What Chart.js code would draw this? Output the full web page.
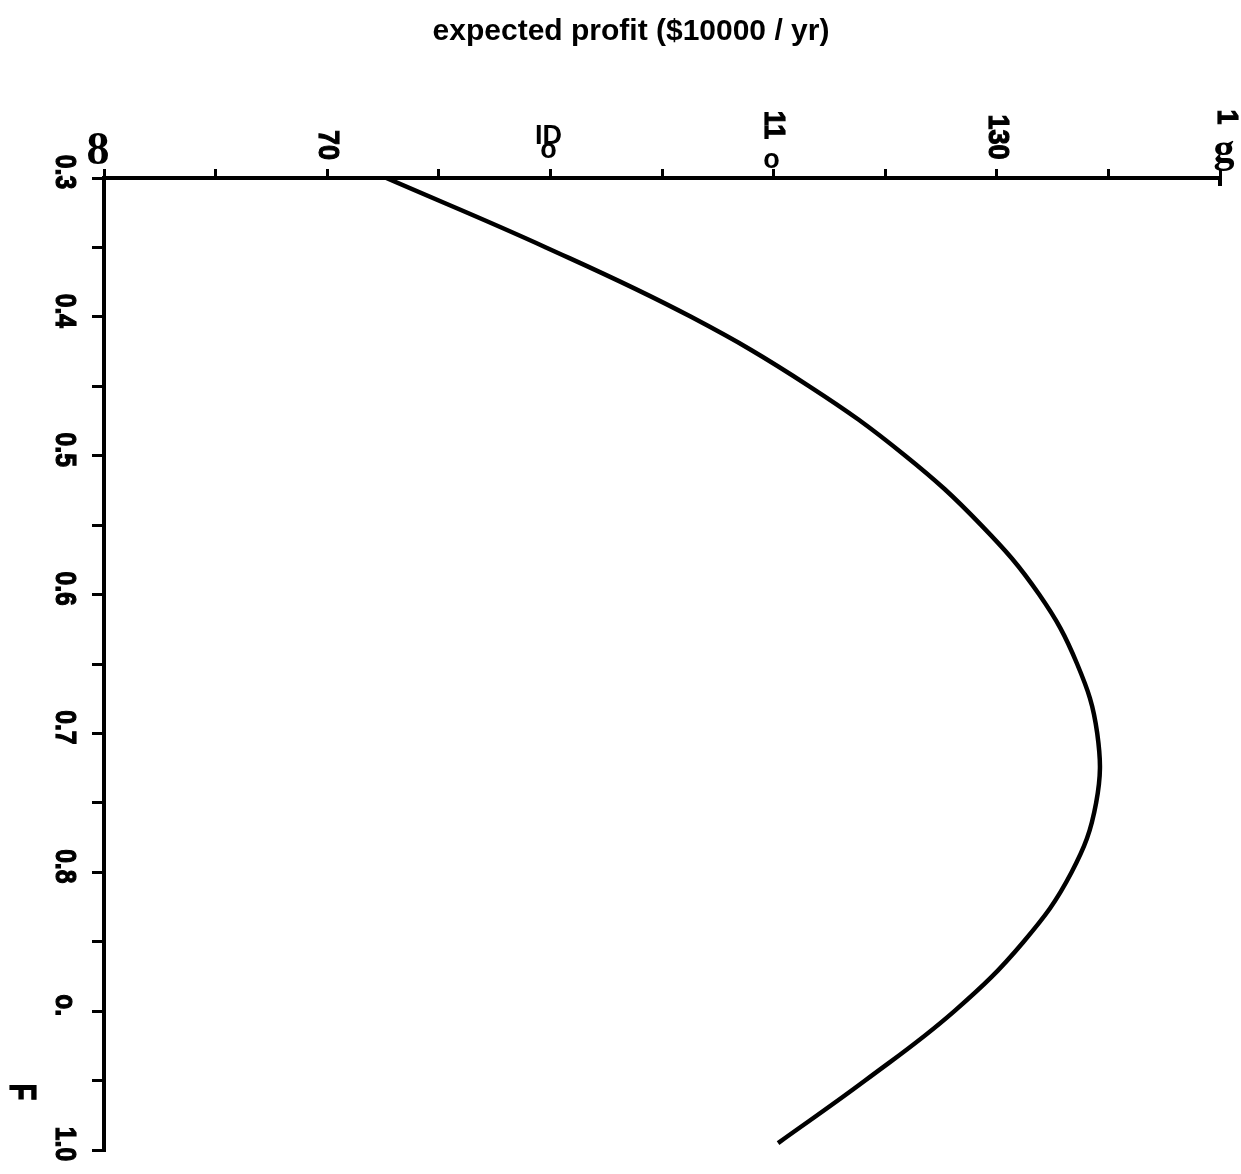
<!DOCTYPE html>
<html>
<head>
<meta charset="utf-8">
<script src="https://cdn.jsdelivr.net/npm/chart.js@4.4.1/dist/chart.umd.min.js"></script>
<style>
  html, body { margin: 0; padding: 0; background: #fff; }
  #wrap { width: 1241px; height: 1174px; position: relative; }
</style>
</head>
<body>
<div id="wrap"><canvas id="myChart" width="1241" height="1174"></canvas></div>
<script>
// F (vertical axis) og expected profit (horizontal axis)
const fValues = [0.30, 0.35, 0.40, 0.45, 0.50, 0.55, 0.60, 0.65, 0.70, 0.75, 0.80, 0.85, 0.90, 0.95, 0.995];
const profitValues = [75.3, 89.6, 102.6, 113.2, 121.8, 128.6, 133.8, 137.2, 139.0, 138.9, 136.7, 132.4, 126.2, 118.2, 110.4];

// tick labels som de står på billedet
const profitTicks = [50, 70, 90, 110, 130, 150];
const profitTickText = ['8', '70', 'ID o', '11 o', '130', '1 g'];
const fTicks = [0.3, 0.4, 0.5, 0.6, 0.7, 0.8, 0.9, 1.0];
const fTickText = ['0.3', '0.4', '0.5', '0.6', '0.7', '0.8', 'o.', '1.0'];

const titleText = 'expected profit ($10000 / yr)';
const yTitleText = 'F';

const points = fValues.map((f, i) => ({x: profitValues[i], y: f}));

// tegner rotated tekst (90 grader med uret), lidt fed som paa scanningen
function rotText(ctx, txt, x, y, font, squeeze) {
    ctx.save();
    ctx.translate(x, y);
    ctx.rotate(Math.PI / 2);
    ctx.scale(squeeze || 1, 1);
    ctx.font = font;
    ctx.textAlign = 'center';
    ctx.textBaseline = 'middle';
    ctx.lineWidth = 1.2;
    ctx.strokeStyle = '#000';
    ctx.fillText(txt, 0, 0);
    ctx.strokeText(txt, 0, 0);
    ctx.restore();
}

function plainText(ctx, txt, x, y, font) {
    ctx.font = font;
    ctx.textAlign = 'center';
    ctx.textBaseline = 'alphabetic';
    ctx.fillText(txt, x, y);
}

const labelPlugin = {
    id: 'labels',
    afterDraw(chart) {
        const ctx = chart.ctx;
        const xs = chart.scales.x;
        const ys = chart.scales.y;
        ctx.save();
        ctx.fillStyle = '#000';

        // titel
        plainText(ctx, titleText, 631, 40, 'bold 30px "Liberation Sans", Arial, sans-serif');

        // top labels
        const bold = 'bold 30px "Liberation Sans", Arial, sans-serif';
        profitTicks.forEach((v, i) => {
            const px = xs.getPixelForValue(v);
            const parts = profitTickText[i].split(' ');
            if (parts.length == 1 && parts[0].length == 1) {
                plainText(ctx, parts[0], px - 6, 164, 'bold 46px "Liberation Serif", serif');
                return;
            }
            if (parts.length == 1) {
                rotText(ctx, parts[0], px, 145 - (parts[0].length - 2) * 8, bold, 0.9);
                return;
            }
            // to dele: oeverst + "o"/"g" nederst
            const top = parts[0], bot = parts[1];
            if (/^\d+$/.test(top) && top.length > 1) {
                rotText(ctx, top, px, 125, bold, 0.9);
            } else if (/^\d+$/.test(top)) {
                rotText(ctx, top, px + 6, 117, bold, 0.9);
            } else {
                plainText(ctx, top, px - 2, 144, 'bold 27px "Liberation Sans", Arial, sans-serif');
            }
            if (bot == 'g') {
                plainText(ctx, bot, px + 4, 162, 'bold 42px "Liberation Serif", serif');
            } else {
                plainText(ctx, bot, px - 2, top == 'ID' ? 158 : 168, 'bold 27px "Liberation Sans", Arial, sans-serif');
            }
        });

        // venstre labels
        fTicks.forEach((v, i) => {
            const py = ys.getPixelForValue(v);
            rotText(ctx, fTickText[i], 64, py - 6, 'bold 29px "Liberation Sans", Arial, sans-serif', 0.85);
        });

        // F
        rotText(ctx, yTitleText, 20, 1092, 'bold 36px "Liberation Sans", Arial, sans-serif', 0.75);

        // lille krog i hoejre ende af top aksen
        ctx.strokeStyle = '#000';
        ctx.lineWidth = 4;
        ctx.beginPath();
        ctx.moveTo(xs.right, xs.bottom - 2);
        ctx.lineTo(xs.right, xs.bottom + 8);
        ctx.stroke();
        ctx.restore();
    }
};

const data = {
    datasets: [
        {
            label: 'profit',
            data: points,
            borderColor: '#000',
            backgroundColor: '#000',
            borderWidth: 4.5,
            pointRadius: 0,
            tension: 0.4,
            fill: false
        }
    ]
};

const config = {
    type: 'line',
    data: data,
    options: {
        responsive: false,
        animation: false,
        layout: { padding: { top: 0, left: 0, right: 21, bottom: 24 } },
        plugins: {
            legend: { display: false },
            tooltip: { enabled: false },
            title: { display: false }
        },
        scales: {
            x: {
                type: 'linear',
                position: 'top',
                min: 50,
                max: 150,
                ticks: { display: false, stepSize: 10 },
                grid: {
                    drawOnChartArea: false,
                    drawTicks: true,
                    tickLength: 9,
                    color: '#000',
                    lineWidth: 3
                },
                border: { display: true, color: '#000', width: 4 },
                afterFit(scale) { scale.height = 178; }
            },
            y: {
                type: 'linear',
                position: 'left',
                reverse: true,
                min: 0.3,
                max: 1.0,
                ticks: { display: false, stepSize: 0.05 },
                grid: {
                    drawOnChartArea: false,
                    drawTicks: true,
                    tickLength: 12,
                    color: '#000',
                    lineWidth: 3
                },
                border: { display: true, color: '#000', width: 4 },
                afterFit(scale) { scale.width = 104; }
            }
        }
    },
    plugins: [labelPlugin]
};

const mychart = new Chart(document.getElementById('myChart'), config);
</script>
</body>
</html>
